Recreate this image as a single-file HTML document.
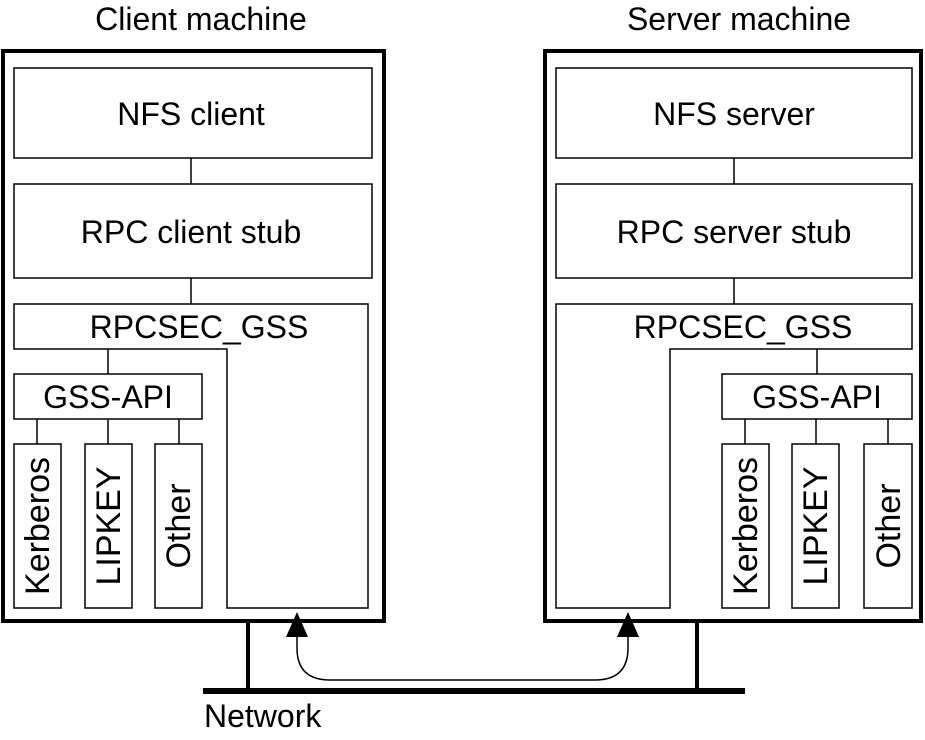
<!DOCTYPE html>
<html><head><style>body{margin:0;background:#fff}</style></head><body>
<svg width="925" height="735" viewBox="0 0 925 735" xmlns="http://www.w3.org/2000/svg" font-family="Liberation Sans, Arial, sans-serif" font-size="32" fill="none" stroke="#000">
<g fill="#000" stroke="none" text-anchor="middle">
<text x="201" y="30">Client machine</text>
<text x="739" y="30">Server machine</text>
<text x="191" y="125">NFS client</text>
<text x="191" y="243">RPC client stub</text>
<text x="199" y="338">RPCSEC_GSS</text>
<text x="108" y="408">GSS-API</text>
<text x="734" y="125">NFS server</text>
<text x="734" y="243">RPC server stub</text>
<text x="743" y="338">RPCSEC_GSS</text>
<text x="817" y="408">GSS-API</text>
<g font-size="34">
<text transform="translate(49,526) rotate(-90)">Kerberos</text>
<text transform="translate(120,526) rotate(-90)">LIPKEY</text>
<text transform="translate(190,526) rotate(-90)">Other</text>
<text transform="translate(757,526) rotate(-90)">Kerberos</text>
<text transform="translate(827,526) rotate(-90)">LIPKEY</text>
<text transform="translate(900,526) rotate(-90)">Other</text>
</g>
<text x="204" y="727" text-anchor="start">Network</text>
</g>
<g stroke-width="4">
<rect x="3" y="51" width="381" height="570"/>
<rect x="545" y="51" width="376" height="570"/>
<line x1="248" y1="621" x2="248" y2="690"/>
<line x1="697" y1="621" x2="697" y2="690"/>
</g>
<line x1="203" y1="691" x2="745" y2="691" stroke-width="6"/>
<g stroke-width="1.5">
<rect x="14" y="68" width="358" height="90"/>
<rect x="14" y="184" width="358" height="94"/>
<line x1="191" y1="158" x2="191" y2="184"/><line x1="191" y1="278" x2="191" y2="304"/>
<polygon points="14,304 368,304 368,608 227,608 227,349 14,349"/>
<line x1="108" y1="349" x2="108" y2="374"/>
<rect x="14" y="374" width="188" height="45"/>
<line x1="37" y1="419" x2="37" y2="444"/><line x1="108" y1="419" x2="108" y2="444"/><line x1="179" y1="419" x2="179" y2="444"/>
<rect x="14" y="444" width="47" height="164"/><rect x="85" y="444" width="47" height="164"/><rect x="155" y="444" width="47" height="164"/>

<rect x="556" y="68" width="356" height="90"/>
<rect x="556" y="184" width="356" height="94"/>
<line x1="734" y1="158" x2="734" y2="184"/><line x1="734" y1="278" x2="734" y2="304"/>
<polygon points="556,304 912,304 912,349 670,349 670,608 556,608"/>
<line x1="817" y1="349" x2="817" y2="374"/>
<rect x="722" y="374" width="190" height="45"/>
<line x1="745" y1="419" x2="745" y2="444"/><line x1="816" y1="419" x2="816" y2="444"/><line x1="888" y1="419" x2="888" y2="444"/>
<rect x="722" y="444" width="47" height="164"/><rect x="792" y="444" width="47" height="164"/><rect x="864" y="444" width="48" height="164"/>

<path d="M297,630 L297,648 Q297,680 330,680 L595,680 Q628,680 628,648 L628,630"/>
</g>
<g fill="#000" stroke="none">
<polygon points="297,612 286,637 308,637"/>
<polygon points="628,612 617,637 639,637"/>
</g>
</svg>
</body></html>
